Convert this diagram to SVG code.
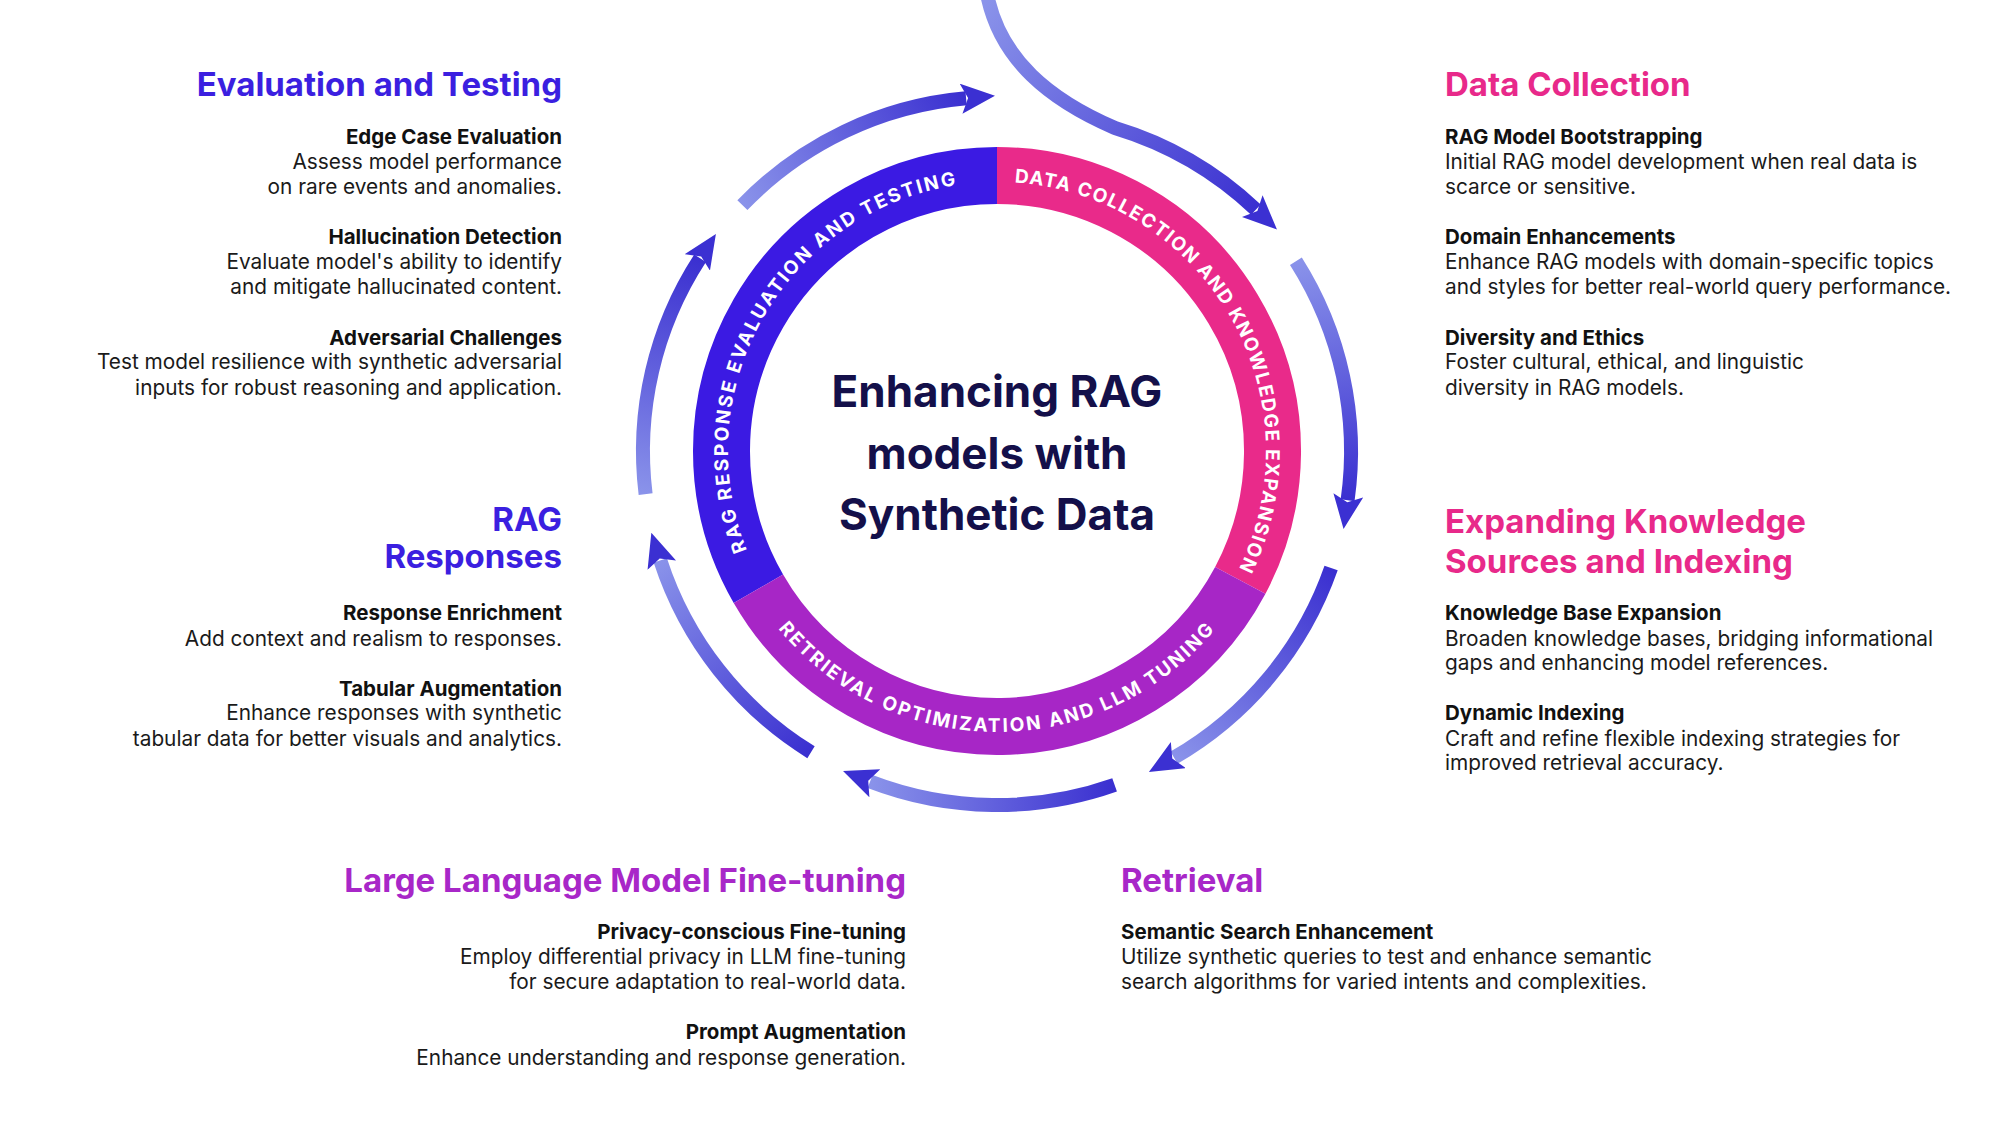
<svg xmlns="http://www.w3.org/2000/svg" width="1999" height="1125" viewBox="0 0 1999 1125">
<style>
text{font-family:Inter,"Noto Sans","Liberation Sans",sans-serif}
.h{font-size:33px;font-weight:700}
.b{font-size:20.5px;font-weight:700;fill:#111}
.t{font-size:20.8px;fill:#1a1a1a}
.r{text-anchor:end}
.ring{fill:none;stroke-width:57}
.rt{font-size:19px;font-weight:700;fill:#fff;letter-spacing:2.2px}
.ar{fill:none;stroke-width:14;marker-end:url(#ah)}
.c{font-size:44px;font-weight:700;fill:#14104a;text-anchor:middle}
</style>
<defs>
<marker id="ah" markerUnits="userSpaceOnUse" markerWidth="34" markerHeight="30" viewBox="0 0 34 30" refX="5" refY="15" orient="auto">
<path d="M0,0 L34,15 L0,30 L7,15 z" fill="#3b30d2"/>
</marker>
<linearGradient id="g1" gradientUnits="userSpaceOnUse" x1="742" y1="205" x2="966" y2="98"><stop offset="0" stop-color="#8a93ea"/><stop offset="1" stop-color="#3a2fd0"/></linearGradient>
<linearGradient id="g2" gradientUnits="userSpaceOnUse" x1="646" y1="494" x2="700" y2="258"><stop offset="0" stop-color="#8a93ea"/><stop offset="1" stop-color="#3a2fd0"/></linearGradient>
<linearGradient id="g3" gradientUnits="userSpaceOnUse" x1="811" y1="752" x2="660" y2="560"><stop offset="0" stop-color="#3a2fd0"/><stop offset="1" stop-color="#8a93ea"/></linearGradient>
<linearGradient id="g4" gradientUnits="userSpaceOnUse" x1="1115" y1="785" x2="870" y2="781"><stop offset="0" stop-color="#3a2fd0"/><stop offset="1" stop-color="#8a93ea"/></linearGradient>
<linearGradient id="g5" gradientUnits="userSpaceOnUse" x1="1331" y1="568" x2="1174" y2="758"><stop offset="0" stop-color="#3a2fd0"/><stop offset="1" stop-color="#8a93ea"/></linearGradient>
<linearGradient id="g6" gradientUnits="userSpaceOnUse" x1="1296" y1="261" x2="1348" y2="500"><stop offset="0" stop-color="#8a93ea"/><stop offset="1" stop-color="#3a2fd0"/></linearGradient>
<linearGradient id="g7" gradientUnits="userSpaceOnUse" x1="987" y1="0" x2="1256" y2="210"><stop offset="0" stop-color="#8a93ea"/><stop offset="1" stop-color="#3a2fd0"/></linearGradient>
<path id="pb" d="M764,585.5 A269,269 0 0 1 997,182"/>
<path id="pp" d="M997,182 A269,269 0 0 1 1230,585.5"/>
<path id="pu" d="M752.8,592 A283,283 0 0 0 1241.2,592"/>
</defs>
<rect width="1999" height="1125" fill="#fff"/>
<g id="connectors">
<path class="ar" stroke="url(#g1)" d="M742.4,205.1 A354,354 0 0 1 966.1,98.3"/>
<path class="ar" stroke="url(#g2)" d="M645.6,494.1 A354,354 0 0 1 700.1,258.2"/>
<path class="ar" stroke="url(#g3)" d="M811,752.2 A354,354 0 0 1 660.3,560.4"/>
<path class="ar" stroke="url(#g4)" d="M1114.6,784.9 A354,354 0 0 1 870.1,781.5"/>
<path class="ar" stroke="url(#g5)" d="M1331.1,568 A354,354 0 0 1 1174,757.6"/>
<path class="ar" stroke="url(#g6)" d="M1295.9,261.3 A354,354 0 0 1 1347.6,500.3"/>
<path class="ar" stroke="url(#g7)" d="M987,-6 C1000,60 1050,100 1115,128 A354,354 0 0 1 1255.9,209.6"/>
</g>
<g id="ring">
<path class="ring" stroke="#3b1ae3" d="M758.4,588.75 A275.5,275.5 0 0 1 997,175.5"/>
<path class="ring" stroke="#e92a8a" d="M997,175.5 A275.5,275.5 0 0 1 1240.3,580.3"/>
<path class="ring" stroke="#a726c6" d="M1240.3,580.3 A275.5,275.5 0 0 1 758.4,588.75"/>
<text class="rt"><textPath href="#pb" startOffset="50%" text-anchor="middle">RAG RESPONSE EVALUATION AND TESTING</textPath></text>
<text class="rt" style="letter-spacing:1.5px"><textPath href="#pp" startOffset="50%" text-anchor="middle">DATA COLLECTION AND KNOWLEDGE EXPANSION</textPath></text>
<text class="rt"><textPath href="#pu" startOffset="50%" text-anchor="middle">RETRIEVAL OPTIMIZATION AND LLM TUNING</textPath></text>
</g>
<g id="center">
<text class="c" x="997" y="407">Enhancing RAG</text>
<text class="c" x="997" y="469">models with</text>
<text class="c" x="997" y="530">Synthetic Data</text>
</g>
<g id="evaluation">
<text class="h r" x="562" y="96" fill="#3b1fe0">Evaluation and Testing</text>
<text class="b r" x="562" y="143.5">Edge Case Evaluation</text>
<text class="t r" x="562" y="169">Assess model performance</text>
<text class="t r" x="562" y="193.5">on rare events and anomalies.</text>
<text class="b r" x="562" y="243.5">Hallucination Detection</text>
<text class="t r" x="562" y="269">Evaluate model's ability to identify</text>
<text class="t r" x="562" y="293.5">and mitigate hallucinated content.</text>
<text class="b r" x="562" y="344.7">Adversarial Challenges</text>
<text class="t r" x="562" y="369">Test model resilience with synthetic adversarial</text>
<text class="t r" x="562" y="394.7">inputs for robust reasoning and application.</text>
</g>
<g id="responses">
<text class="h r" x="562" y="530.5" fill="#3b1fe0">RAG</text>
<text class="h r" x="562" y="567.6" fill="#3b1fe0">Responses</text>
<text class="b r" x="562" y="620">Response Enrichment</text>
<text class="t r" x="562" y="645.8">Add context and realism to responses.</text>
<text class="b r" x="562" y="695.8">Tabular Augmentation</text>
<text class="t r" x="562" y="720">Enhance responses with synthetic </text>
<text class="t r" x="562" y="745.8">tabular data for better visuals and analytics.</text>
</g>
<g id="datacollection">
<text class="h" x="1445" y="96" fill="#e8298a">Data Collection</text>
<text class="b" x="1445" y="143.5">RAG Model Bootstrapping</text>
<text class="t" x="1445" y="169">Initial RAG model development when real data is</text>
<text class="t" x="1445" y="193.5">scarce or sensitive.</text>
<text class="b" x="1445" y="243.5">Domain Enhancements</text>
<text class="t" x="1445" y="269">Enhance RAG models with domain-specific topics</text>
<text class="t" x="1445" y="293.5">and styles for better real-world query performance.</text>
<text class="b" x="1445" y="344.7">Diversity and Ethics</text>
<text class="t" x="1445" y="369">Foster cultural, ethical, and linguistic</text>
<text class="t" x="1445" y="394.7">diversity in RAG models.</text>
</g>
<g id="knowledge">
<text class="h" x="1445" y="533" fill="#e8298a">Expanding Knowledge</text>
<text class="h" x="1445" y="573" fill="#e8298a">Sources and Indexing</text>
<text class="b" x="1445" y="620">Knowledge Base Expansion</text>
<text class="t" x="1445" y="645.8">Broaden knowledge bases, bridging informational</text>
<text class="t" x="1445" y="670">gaps and enhancing model references.</text>
<text class="b" x="1445" y="720">Dynamic Indexing</text>
<text class="t" x="1445" y="745.8">Craft and refine flexible indexing strategies for</text>
<text class="t" x="1445" y="770">improved retrieval accuracy.</text>
</g>
<g id="finetuning">
<text class="h r" x="906" y="892" fill="#a827c8">Large Language Model Fine-tuning</text>
<text class="b r" x="906" y="939">Privacy-conscious Fine-tuning</text>
<text class="t r" x="906" y="963.6">Employ differential privacy in LLM fine-tuning </text>
<text class="t r" x="906" y="989">for secure adaptation to real-world data.</text>
<text class="b r" x="906" y="1039">Prompt Augmentation</text>
<text class="t r" x="906" y="1065">Enhance understanding and response generation.</text>
</g>
<g id="retrieval">
<text class="h" x="1121" y="892" fill="#a827c8">Retrieval</text>
<text class="b" x="1121" y="939">Semantic Search Enhancement</text>
<text class="t" x="1121" y="963.6">Utilize synthetic queries to test and enhance semantic</text>
<text class="t" x="1121" y="989">search algorithms for varied intents and complexities.</text>
</g>
</svg>
